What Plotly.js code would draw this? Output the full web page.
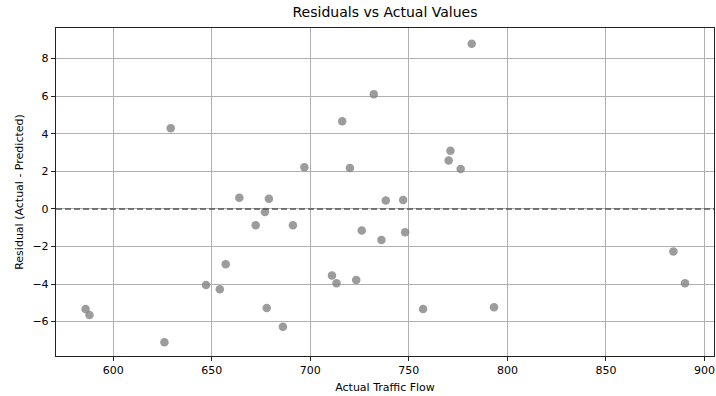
<!DOCTYPE html>
<html><head><meta charset="utf-8">
<script src="https://cdn.plot.ly/plotly-3.0.1.min.js"></script>
<style>html,body{margin:0;padding:0;background:#fff}#chart{width:716px;height:396px}</style>
</head><body><div id="chart"></div>
<script>
const actual = [629.2, 697.0, 664.0, 679.0, 781.9, 732.2, 716.2, 771.1, 770.2, 776.3, 720.1, 738.3, 747.1,
  677.0, 672.3, 691.2, 657.1, 647.1, 654.1, 677.9, 686.1, 586.0, 588.0, 626.0,
  726.1, 736.1, 748.1, 711.0, 713.3, 723.3, 757.2, 793.2, 884.2, 890.1];
const residual = [4.30, 2.22, 0.60, 0.54, 8.79, 6.11, 4.67, 3.09, 2.58, 2.13, 2.18, 0.45, 0.48,
  -0.16, -0.87, -0.87, -2.95, -4.05, -4.28, -5.27, -6.27, -5.33, -5.65, -7.10,
  -1.15, -1.65, -1.24, -3.55, -3.96, -3.78, -5.33, -5.24, -2.27, -3.96];
const xRange = [571, 904.8];
const yRange = [-7.83, 9.63];
const xTicks = [600, 650, 700, 750, 800, 850, 900];
const yTicks = [-6, -4, -2, 0, 2, 4, 6, 8];

const font = "DejaVu Sans, sans-serif";
const axisCommon = {
  showgrid: true, gridcolor: "#b0b0b0", gridwidth: 1,
  zeroline: false, showline: true, linecolor: "#222", linewidth: 1.2, mirror: true,
  ticks: "outside", ticklen: 4, tickcolor: "#222", tickwidth: 1,
  tickfont: {family: font, size: 11, color: "#000"}
};
const data = [
  {x: actual, y: residual, type: "scatter", mode: "markers",
   marker: {color: "rgba(128,128,128,0.78)", size: 8.5, line: {width: 0}}, hoverinfo: "skip"},
  {x: xRange, y: [0, 0], type: "scatter", mode: "lines",
   line: {color: "#555", width: 1.5, dash: "6px,3px"}, hoverinfo: "skip"}
];
const layout = {
  width: 716, height: 396,
  margin: {l: 56, r: 2, t: 28, b: 40},
  paper_bgcolor: "#fff", plot_bgcolor: "#fff",
  showlegend: false,
  title: {text: "Residuals vs Actual Values", font: {family: font, size: 14, color: "#000"},
          x: 0.5, xanchor: "center", y: 1, yanchor: "top", pad: {t: 7}, xref: "paper"},
  xaxis: Object.assign({}, axisCommon, {range: xRange, tickvals: xTicks,
    title: {text: "Actual Traffic Flow", font: {family: font, size: 11, color: "#000"}, standoff: 6}}),
  yaxis: Object.assign({}, axisCommon, {range: yRange, tickvals: yTicks,
    title: {text: "Residual (Actual - Predicted)", font: {family: font, size: 11, color: "#000"}, standoff: 6}})
};
Plotly.newPlot("chart", data, layout, {staticPlot: true, displayModeBar: false});
</script></body></html>
